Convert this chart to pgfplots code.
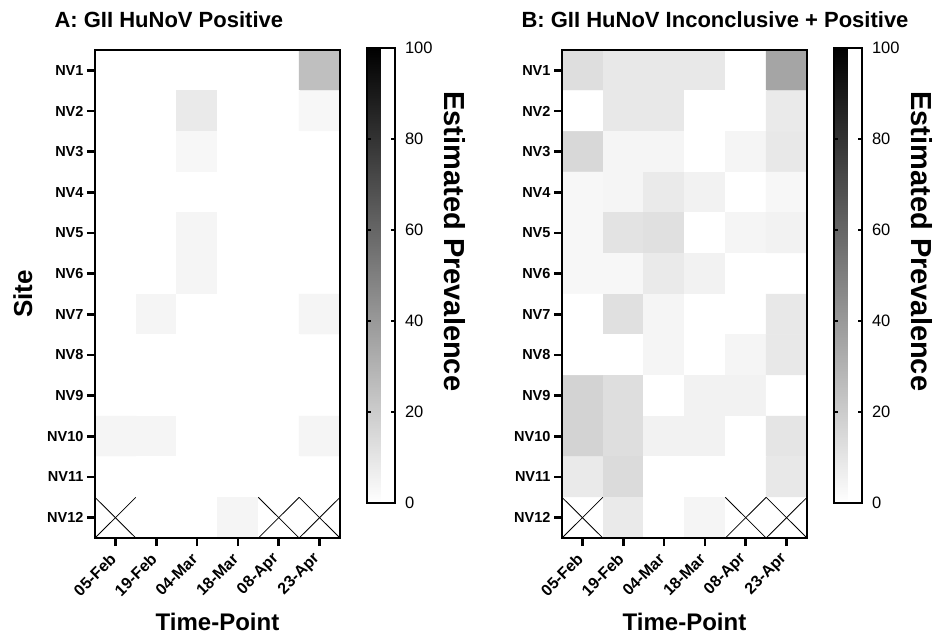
\documentclass[border=0pt]{standalone}
\usepackage{fontspec}
\setmainfont{Liberation Sans}
\usepackage{pgfplots}
\usepackage{pgfplotstable}
\pgfplotsset{compat=1.18}
\usetikzlibrary{calc}

% x = time-point index, y = site index, v = estimated prevalence
\pgfplotstableread{
x y v
0 1 0
1 1 0
2 1 0
3 1 0
4 1 0
5 1 25
0 2 0
1 2 0
2 2 8
3 2 0
4 2 0
5 2 3
0 3 0
1 3 0
2 3 3
3 3 0
4 3 0
5 3 0
0 4 0
1 4 0
2 4 0
3 4 0
4 4 0
5 4 0
0 5 0
1 5 0
2 5 4
3 5 0
4 5 0
5 5 0
0 6 0
1 6 0
2 6 4
3 6 0
4 6 0
5 6 0
0 7 0
1 7 4
2 7 0
3 7 0
4 7 0
5 7 4
0 8 0
1 8 0
2 8 0
3 8 0
4 8 0
5 8 0
0 9 0
1 9 0
2 9 0
3 9 0
4 9 0
5 9 0
0 10 4
1 10 4
2 10 0
3 10 0
4 10 0
5 10 4
0 11 0
1 11 0
2 11 0
3 11 0
4 11 0
5 11 0
0 12 0
1 12 0
2 12 0
3 12 4
4 12 0
5 12 0
}\pos

\pgfplotstableread{
x y v
0 1 13
1 1 9
2 1 9
3 1 9
4 1 0
5 1 35
0 2 0
1 2 9
2 2 9
3 2 0
4 2 0
5 2 8
0 3 15
1 3 4
2 3 4
3 3 0
4 3 4
5 3 9
0 4 3
1 4 4
2 4 8
3 4 5
4 4 0
5 4 3
0 5 3
1 5 11
2 5 12
3 5 0
4 5 4
5 5 5
0 6 3
1 6 3
2 6 8
3 6 5
4 6 0
5 6 0
0 7 0
1 7 12
2 7 4
3 7 0
4 7 0
5 7 9
0 8 0
1 8 0
2 8 4
3 8 0
4 8 4
5 8 9
0 9 17
1 9 13
2 9 0
3 9 5
4 9 5
5 9 0
0 10 17
1 10 13
2 10 5
3 10 5
4 10 0
5 10 10
0 11 8
1 11 14
2 11 0
3 11 0
4 11 0
5 11 9
0 12 0
1 12 8
2 12 0
3 12 4
4 12 0
5 12 0
}\incpos

\pgfplotsset{
  hm/.style={
    scale only axis, width=245pt, height=488pt,
    xmin=-0.5, xmax=5.5, ymin=0.5, ymax=12.5, y dir=reverse,
    axis on top,
    xtick={0,...,5},
    xticklabels={05-Feb,19-Feb,04-Mar,18-Mar,08-Apr,23-Apr},
    ytick={1,...,12},
    yticklabels={NV1,NV2,NV3,NV4,NV5,NV6,NV7,NV8,NV9,NV10,NV11,NV12},
    tick pos=left, tick align=outside, major tick length=8pt,
    major tick style={black, line width=2.8pt},
    separate axis lines,
    every outer x axis line/.append style={line width=2.8pt, line cap=rect},
    every outer y axis line/.append style={line width=2.8pt, line cap=rect},
    xticklabel shift=8pt,
    xticklabel style={rotate=45, anchor=east, font=\bfseries\fontsize{16}{16}\selectfont},
    yticklabel style={font=\bfseries\fontsize{14.5}{14.5}\selectfont},
    xlabel={Time-Point},
    xlabel style={yshift=-7pt, font=\bfseries\fontsize{24}{24}\selectfont},
    ylabel style={font=\bfseries\fontsize{26}{26}\selectfont},
    title style={at={(0,1)}, anchor=base west, xshift=-44pt, yshift=16pt,
      font=\bfseries\fontsize{22}{22}\selectfont},
    colormap={gw}{color=(white) color=(black)},
    point meta min=0, point meta max=100,
    colorbar,
    colorbar style={
      at={(parent axis.north east)}, anchor=north west, xshift=18pt, yshift=2pt,
      width=28pt, height=455pt,
      ytick={0,20,...,100},
      tick pos=both, yticklabel pos=right, tick align=inside,
      major tick length=4pt,
      major tick style={black, line width=1.2pt},
      axis on top,
      separate axis lines,
      every outer x axis line/.append style={line width=2pt, line cap=rect},
      every outer y axis line/.append style={line width=2pt, line cap=rect},
      yticklabel style={xshift=7pt, font=\fontsize{16.5}{16.5}\selectfont},
      /pgf/number format/assume math mode=true,
      ylabel={Estimated Prevalence},
      ylabel style={at={($(rel axis cs:1,0.575)+(46pt,0)$)}, rotate=180, anchor=south,
        font=\bfseries\fontsize{29}{29}\selectfont},
    },
  },
  xcell/.style={black, line width=0.8pt, no markers, forget plot},
}

\begin{document}
\begin{tikzpicture}
  \path (-95pt,-101pt) rectangle (842pt,538pt);
  \begin{axis}[hm, title={A: GII HuNoV Positive}, ylabel={Site}, ylabel shift=8pt]
    \addplot[matrix plot*, mesh/cols=6, point meta=explicit] table[x=x, y=y, meta=v] {\pos};
    \addplot[xcell] coordinates {(-0.5,11.5) (0.5,12.5)};
    \addplot[xcell] coordinates {(-0.5,12.5) (0.5,11.5)};
    \addplot[xcell] coordinates {(3.5,11.5) (4.5,12.5)};
    \addplot[xcell] coordinates {(3.5,12.5) (4.5,11.5)};
    \addplot[xcell] coordinates {(4.5,11.5) (5.5,12.5)};
    \addplot[xcell] coordinates {(4.5,12.5) (5.5,11.5)};
  \end{axis}
  \begin{axis}[hm, at={(467pt,0)}, title={B: GII HuNoV Inconclusive + Positive}]
    \addplot[matrix plot*, mesh/cols=6, point meta=explicit] table[x=x, y=y, meta=v] {\incpos};
    \addplot[xcell] coordinates {(-0.5,11.5) (0.5,12.5)};
    \addplot[xcell] coordinates {(-0.5,12.5) (0.5,11.5)};
    \addplot[xcell] coordinates {(3.5,11.5) (4.5,12.5)};
    \addplot[xcell] coordinates {(3.5,12.5) (4.5,11.5)};
    \addplot[xcell] coordinates {(4.5,11.5) (5.5,12.5)};
    \addplot[xcell] coordinates {(4.5,12.5) (5.5,11.5)};
  \end{axis}
\end{tikzpicture}
\end{document}
